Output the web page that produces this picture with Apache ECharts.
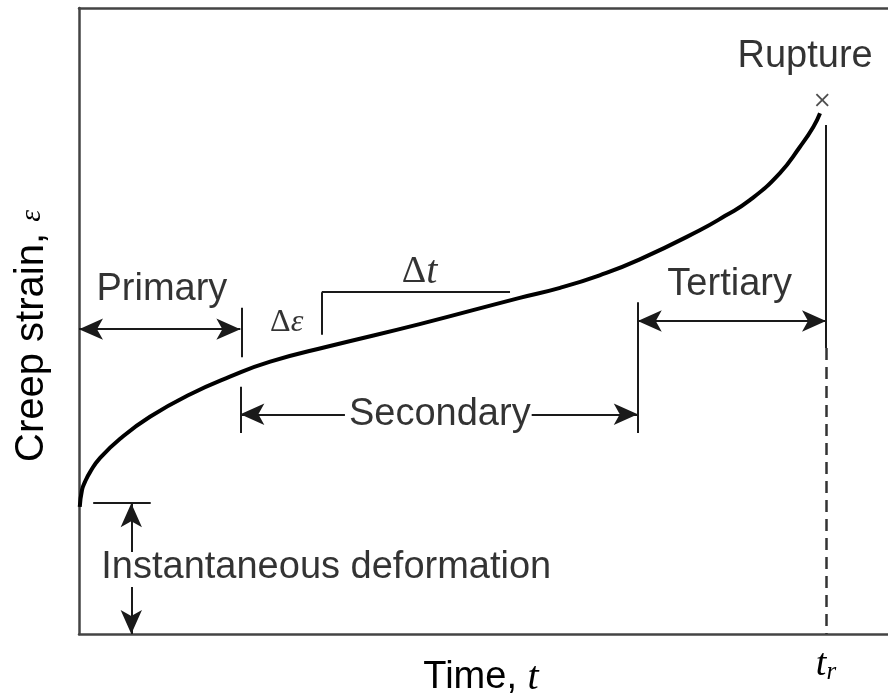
<!DOCTYPE html>
<html>
<head>
<meta charset="utf-8">
<script src="https://cdn.jsdelivr.net/npm/echarts@6/dist/echarts.min.js"></script>
<style>
  html, body { margin: 0; padding: 0; background: #fff; }
  #creep { width: 888px; height: 700px; }
</style>
</head>
<body>
<div id="creep"></div>
<script>
// creep curve (time in units where t_r = 10, strain in arbitrary units)
var curveTime   = [0.01, 0.04, 0.08, 0.15, 0.28, 0.55, 0.95, 1.49, 2.02, 2.56, 3.36, 4.56, 5.90, 6.44, 6.97, 7.50, 8.31, 8.65, 8.98, 9.38, 9.65, 9.83, 9.92];
var curveStrain = [2.03, 2.30, 2.43, 2.59, 2.81, 3.12, 3.47, 3.83, 4.11, 4.35, 4.60, 4.95, 5.37, 5.53, 5.73, 5.98, 6.45, 6.68, 6.93, 7.36, 7.78, 8.10, 8.32];

var ruptureTime = 10;
var rupturePoint = [9.95, 8.53];
var instantStrain = 2.09;

// stage boundaries
var primaryEnd = 2.16;
var secondaryEnd = 7.48;

// annotation labels: [time, strain, text]
var noteLabels = [
    [9.72, 9.23, 'Rupture'],
    [1.11, 5.50, 'Primary'],
    [4.83, 3.51, 'Secondary'],
    [8.71, 5.58, 'Tertiary'],
    [3.31, 1.07, 'Instantaneous deformation']
];
var slopeLabels = [
    [2.78, 4.97, '{d|Δ}{e|ε}'],
    [4.56, 5.78, '{D|Δ}{t|t}']
];

var xTickLabels = {10: '{t|t}{r|r}'};

var lineClr = '#1a1a1a';
var frameClr = '#444';
var textClr = '#000';
var sans = '"Liberation Sans", Arial, sans-serif';
var serif = '"Liberation Serif", "DejaVu Serif", serif';

function seg(a, b, s1, s2, extra) {
    var p = [{coord: a, symbol: s1 || 'none'}, {coord: b, symbol: s2 || 'none'}];
    if (extra) { p[0].lineStyle = extra; }
    return p;
}

var marks = [
    // primary
    seg([0, 4.87], [primaryEnd, 4.87], 'arrow', 'arrow'),
    seg([primaryEnd + 0.02, 5.21], [primaryEnd + 0.02, 4.42]),
    // secondary
    seg([primaryEnd, 3.95], [primaryEnd, 3.21]),
    seg([3.56, 3.51], [primaryEnd, 3.51], 'none', 'arrow'),
    seg([6.06, 3.51], [secondaryEnd, 3.51], 'none', 'arrow'),
    seg([secondaryEnd, 5.30], [secondaryEnd, 3.21]),
    // tertiary
    seg([secondaryEnd, 5.0], [ruptureTime, 5.0], 'arrow', 'arrow'),
    seg([ruptureTime, 8.13], [ruptureTime, 4.57]),
    seg([ruptureTime, 4.57], [ruptureTime, 0], 'none', 'none', {type: [12, 7], width: 2.5, color: '#333'}),
    // slope bracket
    seg([3.25, 4.78], [3.25, 5.46]),
    seg([3.25, 5.46], [5.77, 5.46]),
    // instantaneous deformation
    seg([0.19, instantStrain], [0.96, instantStrain]),
    seg([0.70, 1.31], [0.70, instantStrain], 'none', 'arrow'),
    seg([0.70, 0.75], [0.70, 0], 'none', 'arrow')
];

var frameLine = {show: true, onZero: false, lineStyle: {color: frameClr, width: 2.5}};

var chart = echarts.init(document.getElementById('creep'));
chart.setOption({
    animation: false,
    backgroundColor: '#fff',
    grid: {left: 79, top: 8, right: 0, bottom: 66},
    xAxis: [
        {
            type: 'value', min: 0, max: 10.83, interval: 10,
            axisLine: frameLine, axisTick: {show: false}, splitLine: {show: false},
            axisLabel: {
                margin: 12,
                showMaxLabel: false,
                formatter: function (v) { return xTickLabels[v] || ''; },
                rich: {
                    t: {fontFamily: serif, fontStyle: 'italic', fontSize: 38, color: textClr},
                    r: {fontFamily: serif, fontStyle: 'italic', fontSize: 25, color: textClr, verticalAlign: 'bottom', padding: [14, 0, 0, 0]}
                }
            }
        },
        {
            type: 'value', position: 'top', min: 0, max: 10.83,
            axisLine: frameLine, axisTick: {show: false}, splitLine: {show: false}, axisLabel: {show: false}
        }
    ],
    yAxis: {
        type: 'value', min: 0, max: 10,
        axisLine: frameLine, axisTick: {show: false}, splitLine: {show: false}, axisLabel: {show: false}
    },
    graphic: [
        {
            type: 'text', x: 32, y: 336, rotation: Math.PI / 2,
            style: {
                text: '{a|Creep strain, }{e|ε}',
                align: 'center', verticalAlign: 'middle',
                rich: {
                    a: {fontFamily: sans, fontSize: 40, fill: textClr},
                    e: {fontFamily: serif, fontStyle: 'italic', fontSize: 30, fill: textClr}
                }
            }
        },
        {
            type: 'text', x: 481, y: 678,
            style: {
                text: '{a|Time, }{t|t}',
                align: 'center', verticalAlign: 'middle',
                rich: {
                    a: {fontFamily: sans, fontSize: 38, fill: textClr},
                    t: {fontFamily: serif, fontStyle: 'italic', fontSize: 40, fill: textClr}
                }
            }
        }
    ],
    series: [
        {
            type: 'line',
            data: curveTime.map(function (t, i) { return [t, curveStrain[i]]; }),
            smooth: 0.5,
            showSymbol: false,
            lineStyle: {color: '#000', width: 4},
            markLine: {
                silent: true,
                symbolSize: [16, 24],
                label: {show: false},
                lineStyle: {color: lineClr, width: 2, type: 'solid'},
                itemStyle: {color: lineClr},
                data: marks
            },
            z: 3
        },
        {
            type: 'scatter',
            data: [rupturePoint],
            symbol: 'path://M0,1L1,0L5,4L9,0L10,1L6,5L10,9L9,10L5,6L1,10L0,9L4,5Z',
            symbolSize: 13,
            itemStyle: {color: '#222'}
        },
        {
            type: 'scatter',
            data: noteLabels.map(function (d) { return {value: [d[0], d[1]], name: d[2]}; }),
            symbolSize: 1,
            itemStyle: {color: 'rgba(0,0,0,0)'},
            label: {
                show: true, position: 'inside',
                formatter: '{b}',
                fontFamily: sans, fontSize: 38, color: textClr
            }
        },
        {
            type: 'scatter',
            data: slopeLabels.map(function (d) { return {value: [d[0], d[1]], name: d[2]}; }),
            symbolSize: 1,
            itemStyle: {color: 'rgba(0,0,0,0)'},
            label: {
                show: true, position: 'inside',
                formatter: '{b}',
                rich: {
                    d: {fontFamily: serif, fontSize: 32, color: textClr},
                    e: {fontFamily: serif, fontStyle: 'italic', fontSize: 32, color: textClr},
                    D: {fontFamily: serif, fontSize: 38, color: textClr},
                    t: {fontFamily: serif, fontStyle: 'italic', fontSize: 40, color: textClr}
                }
            }
        }
    ]
});
</script>
</body>
</html>
